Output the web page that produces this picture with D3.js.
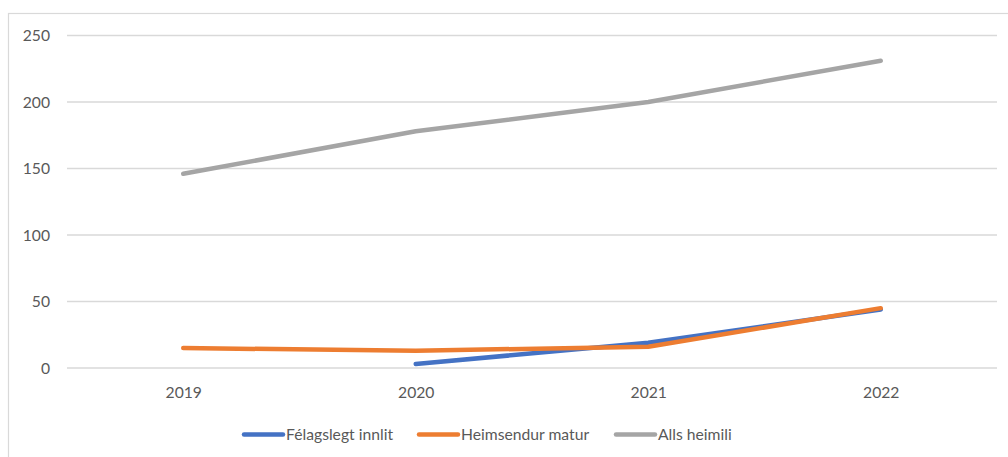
<!DOCTYPE html>
<html>
<head>
<meta charset="utf-8">
<script src="https://cdnjs.cloudflare.com/ajax/libs/d3/7.8.5/d3.min.js"></script>
<style>
  body { margin: 0; background: #fff; }
  text { font-family: Lato, "Open Sans", sans-serif; fill: #595959; }
</style>
</head>
<body>
<div id="chart"></div>
<script>
// data
var years = ["2019", "2020", "2021", "2022"];
var felagslegt = [null, 3, 19, 44];
var heimsendur = [15, 13, 16, 45];
var alls = [146, 178, 200, 231];
var seriesNames = ["Félagslegt innlit", "Heimsendur matur", "Alls heimili"];
var seriesColors = ["#4472C4", "#ED7D31", "#A5A5A5"];
var yTicks = [0, 50, 100, 150, 200, 250];

var W = 1008, H = 457;
var margin = { top: 35.5, right: 11, bottom: 89, left: 67 },
    width = W - margin.left - margin.right,
    height = H - margin.top - margin.bottom;
var fontSize = "15.7px";

var svg = d3.select("#chart")
    .append("svg")
    .attr("width", W)
    .attr("height", H);

// outer chart border (only top/left visible)
svg.append("rect")
    .attr("x", 8.5).attr("y", 13.5)
    .attr("width", 1100).attr("height", 600)
    .attr("fill", "none")
    .attr("stroke", "#d9d9d9")
    .attr("stroke-width", 1.2);

var g = svg.append("g")
    .attr("transform", "translate(" + margin.left + "," + margin.top + ")");

var x = d3.scalePoint()
    .domain(years)
    .range([0, width])
    .padding(0.5);

var y = d3.scaleLinear()
    .domain([0, 250])
    .range([height, 0]);

// gridlines
g.selectAll(".grid")
    .data(yTicks)
    .enter()
    .append("line")
    .attr("x1", 0).attr("x2", width)
    .attr("y1", function (d) { return y(d); })
    .attr("y2", function (d) { return y(d); })
    .attr("stroke", "#d9d9d9")
    .attr("stroke-width", 1.3);

// y axis labels
var yAxis = g.append("g")
    .call(d3.axisLeft(y).tickValues(yTicks).tickSize(0).tickPadding(17));
yAxis.select(".domain").remove();
yAxis.selectAll("text").style("font-size", fontSize).attr("fill", "#595959")
    .style("font-family", "Lato, 'Open Sans', sans-serif");

// x axis labels
var xAxis = g.append("g")
    .attr("transform", "translate(0," + height + ")")
    .call(d3.axisBottom(x).tickSize(0).tickPadding(19));
xAxis.select(".domain").remove();
xAxis.selectAll("text").style("font-size", fontSize).attr("fill", "#595959")
    .style("font-family", "Lato, 'Open Sans', sans-serif");

// lines
var allSeries = [felagslegt, heimsendur, alls];
var line = d3.line()
    .defined(function (d) { return d != null; })
    .x(function (d, i) { return x(years[i]); })
    .y(function (d) { return y(d); });

allSeries.forEach(function (vals, k) {
    g.append("path")
        .datum(vals)
        .attr("fill", "none")
        .attr("stroke", seriesColors[k])
        .attr("stroke-width", 4.5)
        .attr("stroke-linecap", "round")
        .attr("stroke-linejoin", "round")
        .attr("d", line);
});

// legend
var legendX = [244, 419, 616];
var legend = svg.append("g");
seriesNames.forEach(function (name, k) {
    legend.append("line")
        .attr("x1", legendX[k]).attr("x2", legendX[k] + 39)
        .attr("y1", 434.5).attr("y2", 434.5)
        .attr("stroke", seriesColors[k])
        .attr("stroke-width", 4.5)
        .attr("stroke-linecap", "round");
    legend.append("text")
        .attr("x", legendX[k] + 42)
        .attr("y", 434.5)
        .attr("dy", "0.35em")
        .style("font-size", fontSize)
        .text(name);
});
</script>
</body>
</html>
